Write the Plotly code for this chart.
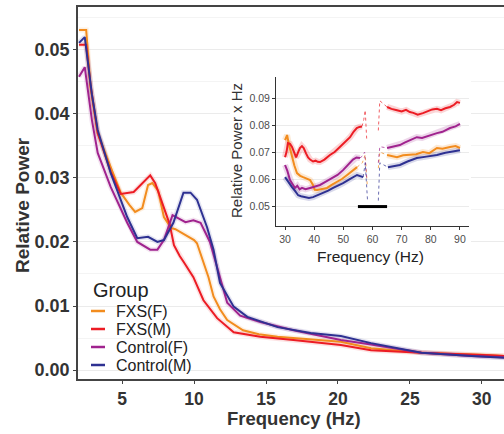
import plotly.graph_objects as go

# ---------------- data ----------------
groups = ["FXS(F)", "FXS(M)", "Control(F)", "Control(M)"]
group_colors = ["#F28C1E", "#EC1C24", "#A0238E", "#2E3192"]

# Main panel: relative power vs frequency (2-32 Hz)
main_freq_fxs_f = [2.0, 2.5, 2.8, 3.3, 4.2, 4.9, 5.5, 5.9, 6.4, 6.8, 7.1, 7.5, 7.9, 8.4, 8.7, 9.3,
                   10.0, 10.2, 10.65, 11.0, 11.35, 11.8, 12.3, 13.4, 14.5, 15.8, 18.0, 20.2, 22.3,
                   25.8, 28.0, 30.0, 31.6]
main_pow_fxs_f = [0.0531, 0.0531, 0.0442, 0.0370, 0.0317, 0.0277, 0.0258, 0.0247, 0.0253, 0.0289,
                  0.0292, 0.0280, 0.0239, 0.0222, 0.0220, 0.0212, 0.0203, 0.0198, 0.0168, 0.0145,
                  0.0115, 0.0095, 0.0078, 0.0062, 0.0056, 0.0052, 0.0048, 0.0044, 0.0034, 0.0027,
                  0.0025, 0.0024, 0.0022]

main_freq_fxs_m = [2.0, 2.5, 2.8, 3.3, 4.2, 4.9, 5.8, 6.4, 6.95, 7.3, 7.9, 8.3, 8.6, 9.0, 9.3,
                   9.95, 10.65, 11.6, 12.75, 14.6, 16.9, 20.2, 22.3, 25.8, 30.5, 31.6]
main_pow_fxs_m = [0.0508, 0.0508, 0.0445, 0.0370, 0.0310, 0.0275, 0.0278, 0.0292, 0.0304, 0.0292,
                  0.0255, 0.0228, 0.0195, 0.0178, 0.0168, 0.0145, 0.0109, 0.0081, 0.0059, 0.0052,
                  0.0047, 0.0039, 0.0031, 0.0027, 0.0023, 0.0022]

main_freq_ctrl_f = [2.0, 2.4, 2.9, 3.3, 4.2, 5.35, 6.05, 6.95, 7.45, 7.9, 8.5, 8.9, 9.4, 9.95,
                    10.45, 11.1, 11.6, 12.3, 13.2, 14.6, 16.9, 20.2, 22.3, 25.8, 29.3, 31.6]
main_pow_ctrl_f = [0.0458, 0.0473, 0.0390, 0.0339, 0.0286, 0.0230, 0.0200, 0.0188, 0.0188, 0.0203,
                   0.0242, 0.0237, 0.0231, 0.0234, 0.0230, 0.0200, 0.0160, 0.0105, 0.0085, 0.0075,
                   0.0062, 0.0047, 0.0040, 0.0027, 0.0022, 0.0020]

main_freq_ctrl_m = [2.0, 2.4, 2.9, 3.3, 4.2, 5.35, 6.05, 6.8, 7.45, 7.9, 8.56, 9.26, 9.75, 10.2,
                    10.9, 11.35, 11.8, 12.75, 13.7, 15.8, 18.1, 20.2, 22.3, 25.8, 29.3, 31.6]
main_pow_ctrl_m = [0.0511, 0.0520, 0.0430, 0.0375, 0.0308, 0.0239, 0.0206, 0.0208, 0.0200, 0.0203,
                   0.0230, 0.0277, 0.0277, 0.0266, 0.0223, 0.0188, 0.0136, 0.0099, 0.0083, 0.0067,
                   0.0058, 0.0053, 0.0042, 0.0027, 0.0022, 0.0019]

# Inset: relative power x Hz, 30-90 Hz (line-noise notch 55-65 Hz)
inset_freq_fxs_f_lo = [30, 30.7, 31.3, 32.4, 33.2, 34.1, 35.2, 36.2, 37.4, 38.6, 39.5, 40.2, 41,
                       42.5, 44.4, 46, 47.8, 49.5, 51.3, 53, 54.7]
inset_pow_fxs_f_lo = [0.0744, 0.0763, 0.0730, 0.0681, 0.0650, 0.0622, 0.0612, 0.0607, 0.0600,
                      0.0596, 0.0580, 0.0560, 0.0559, 0.0562, 0.0567, 0.0578, 0.0589, 0.0600,
                      0.0615, 0.0630, 0.0644]
inset_freq_fxs_f_hi = [65, 66.5, 68.4, 70.5, 72.8, 75, 77.3, 79.5, 82.1, 84, 86.6, 88.5, 90]
inset_pow_fxs_f_hi = [0.0689, 0.0685, 0.0681, 0.0688, 0.0689, 0.0692, 0.0700, 0.0696, 0.0715,
                      0.0712, 0.0719, 0.0722, 0.0715]

inset_freq_fxs_m_lo = [30, 30.5, 31, 31.7, 32.4, 33.1, 33.8, 34.5, 35.1, 35.8, 36.4, 37.2, 37.9,
                       38.6, 39.6, 40.5, 41.2, 42, 43.5, 45.4, 47, 48.8, 50.5, 52.3, 53.5, 54.6,
                       55.5, 56.4]
inset_pow_fxs_m_lo = [0.0681, 0.0700, 0.0733, 0.0730, 0.0719, 0.0700, 0.0680, 0.0700, 0.0715,
                      0.0722, 0.0715, 0.0695, 0.0680, 0.0672, 0.0665, 0.0668, 0.0664, 0.0663,
                      0.0672, 0.0689, 0.0700, 0.0719, 0.0735, 0.0755, 0.0775, 0.0789, 0.0793,
                      0.0795]
inset_freq_fxs_m_hi = [65, 66.5, 68.4, 70, 71.5, 72.8, 74, 75.5, 77.3, 79, 80.5, 82.1, 83.5, 85,
                       86.6, 88, 89, 90]
inset_pow_fxs_m_hi = [0.0867, 0.0860, 0.0855, 0.0850, 0.0856, 0.0848, 0.0845, 0.0838, 0.0844,
                      0.0850, 0.0858, 0.0860, 0.0855, 0.0862, 0.0867, 0.0875, 0.0885, 0.0882]

inset_freq_ctrl_f_lo = [30, 30.8, 31.7, 32.5, 33.4, 34.2, 35, 35.8, 37, 38.6, 40, 42, 44, 46.5,
                        48, 49.9, 51.5, 53.3, 54.5, 55.7]
inset_pow_ctrl_f_lo = [0.0652, 0.0630, 0.0596, 0.0580, 0.0567, 0.0575, 0.0562, 0.0567, 0.0562,
                       0.0567, 0.0572, 0.0578, 0.0590, 0.0604, 0.0615, 0.0633, 0.0650, 0.0672,
                       0.0680, 0.0678]
inset_freq_ctrl_f_hi = [65, 67, 69.4, 71, 73, 75.2, 77, 79, 80.5, 82.1, 84, 86.6, 88.5, 90]
inset_pow_ctrl_f_hi = [0.0715, 0.0720, 0.0726, 0.0735, 0.0745, 0.0755, 0.0752, 0.0760, 0.0765,
                       0.0770, 0.0775, 0.0789, 0.0795, 0.0804]

inset_freq_ctrl_m_lo = [30, 31, 32.4, 33.5, 34.5, 35.5, 36.9, 38.2, 39.6, 41.2, 43, 44.8, 46.5,
                        48.2, 49.9, 52.2, 54.7, 56.8]
inset_pow_ctrl_m_lo = [0.0607, 0.0590, 0.0570, 0.0555, 0.0540, 0.0536, 0.0533, 0.0530, 0.0533,
                       0.0540, 0.0548, 0.0557, 0.0567, 0.0575, 0.0585, 0.0600, 0.0615, 0.0607]
inset_freq_ctrl_m_hi = [65.3, 67, 69.4, 72, 75.2, 78.5, 82.1, 85, 88, 90]
inset_pow_ctrl_m_hi = [0.0644, 0.0648, 0.0652, 0.0665, 0.0678, 0.0683, 0.0689, 0.0697, 0.0704,
                       0.0707]

# Notch-region (dotted) values
notch_freq_fxs_f = [54.7, 56.5, 57.5, 58.2, None, 62.0, 62.5, 65]
notch_pow_fxs_f = [0.0644, 0.0660, 0.0690, 0.0578, None, 0.0640, 0.0700, 0.0689]
notch_freq_fxs_m = [56.4, 57.0, 57.5, 58.0, None, 62.0, 62.5, 65]
notch_pow_fxs_m = [0.0795, 0.0820, 0.0855, 0.0750, None, 0.0780, 0.0890, 0.0867]
notch_freq_ctrl_f = [55.7, 56.5, 57.3, 58.0, None, 62.0, 62.5, 65]
notch_pow_ctrl_f = [0.0678, 0.0685, 0.0700, 0.0600, None, 0.0660, 0.0720, 0.0715]
notch_freq_ctrl_m = [56.8, 57.2, 57.5, 58.3, None, 62.0, 62.5, 65.3]
notch_pow_ctrl_m = [0.0607, 0.0630, 0.0660, 0.0520, None, 0.0520, 0.0660, 0.0644]

# Significance bar in inset
sig_bar_freq = [55, 65]
sig_bar_pow = [0.0498, 0.0498]

# Ticks
main_xticks = [5, 10, 15, 20, 25, 30]
main_yticks = [0.00, 0.01, 0.02, 0.03, 0.04, 0.05]
inset_xticks = [30, 40, 50, 60, 70, 80, 90]
inset_yticks = [0.05, 0.06, 0.07, 0.08, 0.09]

main_series = [
    (main_freq_fxs_f, main_pow_fxs_f),
    (main_freq_fxs_m, main_pow_fxs_m),
    (main_freq_ctrl_f, main_pow_ctrl_f),
    (main_freq_ctrl_m, main_pow_ctrl_m),
]
inset_series = [
    (inset_freq_fxs_f_lo, inset_pow_fxs_f_lo, inset_freq_fxs_f_hi, inset_pow_fxs_f_hi,
     notch_freq_fxs_f, notch_pow_fxs_f),
    (inset_freq_fxs_m_lo, inset_pow_fxs_m_lo, inset_freq_fxs_m_hi, inset_pow_fxs_m_hi,
     notch_freq_fxs_m, notch_pow_fxs_m),
    (inset_freq_ctrl_f_lo, inset_pow_ctrl_f_lo, inset_freq_ctrl_f_hi, inset_pow_ctrl_f_hi,
     notch_freq_ctrl_f, notch_pow_ctrl_f),
    (inset_freq_ctrl_m_lo, inset_pow_ctrl_m_lo, inset_freq_ctrl_m_hi, inset_pow_ctrl_m_hi,
     notch_freq_ctrl_m, notch_pow_ctrl_m),
]

# ---------------- figure ----------------
FONT = "Liberation Sans, Arial, Helvetica, sans-serif"
W, H = 504, 434
ML, MR, MT, MB = 78, 0, 7, 55
PW, PH = W - ML - MR, H - MT - MB
XR = [1.93, 31.54]
YR = [-0.0014, 0.0567]


def px_x(px):
    return (px - ML) / PW


def px_y(py):
    return (H - MB - py) / PH


def data_x(px):
    return XR[0] + px_x(px) * (XR[1] - XR[0])


def data_y(py):
    return YR[0] + px_y(py) * (YR[1] - YR[0])


fig = go.Figure()

# main traces (soft underlay for CI feel, then line)
for (fx, fy), col, name in zip(main_series, group_colors, groups):
    fig.add_trace(go.Scatter(x=fx, y=fy, mode="lines", line=dict(color=col, width=5),
                             opacity=0.12, showlegend=False, hoverinfo="skip"))
for (fx, fy), col, name in zip(main_series, group_colors, groups):
    fig.add_trace(go.Scatter(x=fx, y=fy, mode="lines", name=name,
                             line=dict(color=col, width=2), showlegend=False))

# inset traces
for (xl, yl, xh, yh, nx, ny), col, name in zip(inset_series, group_colors, groups):
    for xx, yy in ((xl, yl), (xh, yh)):
        fig.add_trace(go.Scatter(x=xx, y=yy, xaxis="x2", yaxis="y2", mode="lines",
                                 line=dict(color=col, width=6), opacity=0.18,
                                 showlegend=False, hoverinfo="skip"))
    fig.add_trace(go.Scatter(x=nx, y=ny, xaxis="x2", yaxis="y2", mode="lines",
                             line=dict(color=col, width=1, dash="dot"), opacity=0.7,
                             showlegend=False, hoverinfo="skip"))
for (xl, yl, xh, yh, nx, ny), col, name in zip(inset_series, group_colors, groups):
    for xx, yy in ((xl, yl), (xh, yh)):
        fig.add_trace(go.Scatter(x=xx, y=yy, xaxis="x2", yaxis="y2", mode="lines",
                                 line=dict(color=col, width=2), showlegend=False, name=name))

fig.add_trace(go.Scatter(x=sig_bar_freq, y=sig_bar_pow, xaxis="x2", yaxis="y2", mode="lines",
                         line=dict(color="black", width=3), showlegend=False))

# white panel behind inset (covers main gridlines)
shapes = [dict(type="rect", xref="x", yref="y",
               x0=data_x(230), x1=data_x(471), y0=data_y(273), y1=data_y(72),
               fillcolor="white", line=dict(width=0), layer="between")]

annotations = []
# legend (manual)
legend_y = [311, 329, 347, 365]
annotations.append(dict(text="Group", xref="paper", yref="paper", x=px_x(91), y=px_y(290),
                        xanchor="left", yanchor="middle", showarrow=False,
                        font=dict(family=FONT, size=20, color="#222")))
for name, col, ly in zip(groups, group_colors, legend_y):
    shapes.append(dict(type="line", xref="paper", yref="paper", x0=px_x(91), x1=px_x(105),
                       y0=px_y(ly), y1=px_y(ly), line=dict(color=col, width=2.5)))
    annotations.append(dict(text=name, xref="paper", yref="paper", x=px_x(114), y=px_y(ly),
                            xanchor="left", yanchor="middle", showarrow=False,
                            font=dict(family=FONT, size=16, color="#222")))

# axis titles
annotations.append(dict(text="Relative Power", xref="paper", yref="paper", x=px_x(22),
                        y=px_y(205), textangle=-90, showarrow=False, xanchor="center",
                        yanchor="middle", font=dict(family=FONT, size=19, color="#333",
                                                    weight="bold")))
annotations.append(dict(text="Frequency (Hz)", xref="paper", yref="paper", x=px_x(294),
                        y=px_y(419), showarrow=False, xanchor="center", yanchor="middle",
                        font=dict(family=FONT, size=18.5, color="#333", weight="bold")))
annotations.append(dict(text="Relative Power x Hz", xref="paper", yref="paper", x=px_x(236),
                        y=px_y(151), textangle=-90, showarrow=False, xanchor="center",
                        yanchor="middle", font=dict(family=FONT, size=15, color="#333")))
annotations.append(dict(text="Frequency (Hz)", xref="paper", yref="paper", x=px_x(370),
                        y=px_y(256), showarrow=False, xanchor="center", yanchor="middle",
                        font=dict(family=FONT, size=15.5, color="#222")))

fig.update_layout(
    width=W, height=H,
    margin=dict(l=ML, r=MR, t=MT, b=MB, pad=0),
    paper_bgcolor="white", plot_bgcolor="white",
    showlegend=False,
    shapes=shapes, annotations=annotations,
    xaxis=dict(range=XR, tickvals=main_xticks, showgrid=False, zeroline=False,
               showline=True, linecolor="#444", linewidth=1.5, mirror=True,
               ticks="outside", ticklen=3, tickcolor="#444", tickwidth=1,
               tickfont=dict(family=FONT, size=17.5, color="#333", weight="bold")),
    yaxis=dict(range=YR, tickvals=main_yticks, tickformat=".2f",
               showgrid=True, gridcolor="#EBEBEB", gridwidth=1, zeroline=False,
               minor=dict(dtick=0.005, tick0=0, showgrid=True, gridcolor="#F4F4F4", gridwidth=1),
               showline=True, linecolor="#444", linewidth=1.5,
               ticks="outside", ticklen=3, tickcolor="#444",
               tickfont=dict(family=FONT, size=18, color="#333", weight="bold")),
    xaxis2=dict(domain=[px_x(276), px_x(469)], anchor="y2", range=[26.9, 93.1],
                tickvals=inset_xticks, showgrid=False, zeroline=False, showline=True,
                linecolor="#333", linewidth=1, ticks="outside", ticklen=3, tickcolor="#333",
                tickfont=dict(family=FONT, size=10.5, color="#4D4D4D")),
    yaxis2=dict(domain=[px_y(226), px_y(77)], anchor="x2", range=[0.0426, 0.0978],
                tickvals=inset_yticks, tickformat=".2f", showgrid=True, gridcolor="#EBEBEB",
                zeroline=False, showline=True, linecolor="#333", linewidth=1,
                ticks="outside", ticklen=3, tickcolor="#333",
                tickfont=dict(family=FONT, size=10.5, color="#4D4D4D")),
)

fig.write_html("out.html")
